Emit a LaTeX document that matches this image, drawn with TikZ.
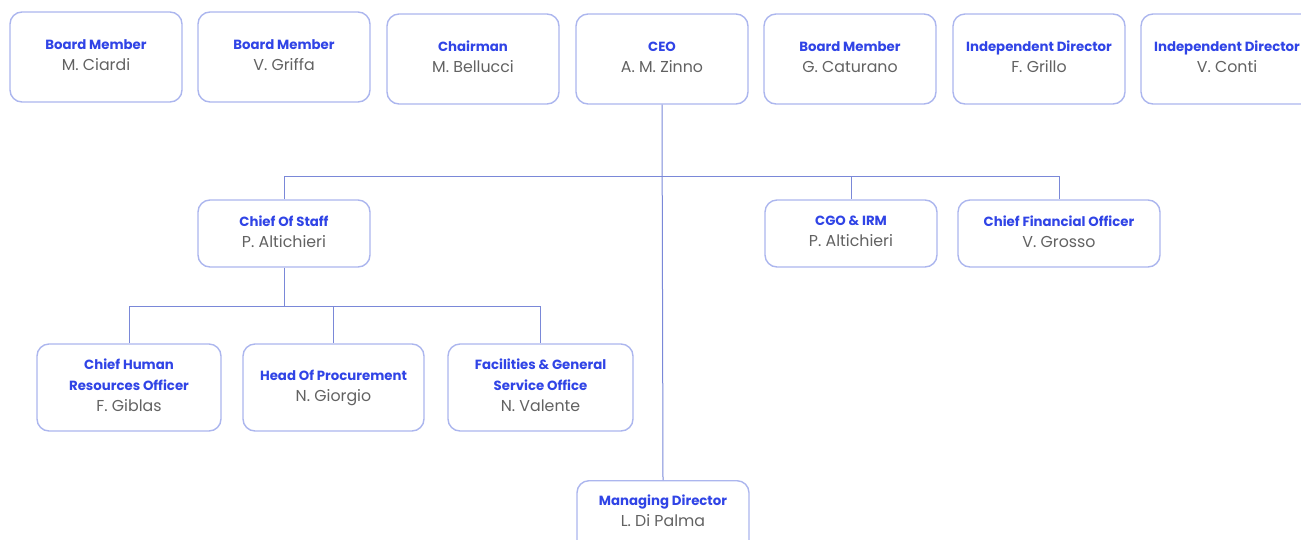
\documentclass[tikz,border=0pt]{standalone}
\usepackage{fontspec}
\setmainfont{Poppins}
\definecolor{boxline}{RGB}{172,182,238}
\definecolor{connline}{RGB}{122,136,216}
\definecolor{titleblue}{RGB}{48,68,230}
\definecolor{namegray}{RGB}{98,98,98}
\newcommand{\ttl}[1]{{\fontsize{13.3}{21}\selectfont\bfseries\color{titleblue}\vphantom{Ahg}#1}}
\newcommand{\nme}[1]{{\fontsize{15.8}{21}\selectfont\color{namegray}\vphantom{Ahg}#1}}
\tikzset{
  orgbox/.style={draw=boxline, line width=1.4pt, rounded corners=12pt, fill=white,
    minimum width=172pt, minimum height=90pt, align=center, inner sep=2pt,
    font=\fontsize{13}{21}\selectfont},
  lowbox/.style={orgbox, minimum height=67pt},
  conn/.style={draw=connline, line width=1pt}
}
\begin{document}
\begin{tikzpicture}[x=1pt,y=-1pt]
\useasboundingbox (0,0) rectangle (1301,539);
\clip (0,0) rectangle (1301,539);
\coordinate (h1) at (662,176);
\coordinate (h2) at (284,306);
% top row
\node[orgbox] (bm1) at (96,57) {\ttl{Board Member}\\\nme{M. Ciardi}};
\node[orgbox] (bm2) at (284,57) {\ttl{Board Member}\\\nme{V. Griffa}};
\node[orgbox] (chair) at (473,59) {\ttl{Chairman}\\\nme{M. Bellucci}};
\node[orgbox] (ceo) at (662,59) {\ttl{CEO}\\\nme{A. M. Zinno}};
\node[orgbox] (bm3) at (850,59) {\ttl{Board Member}\\\nme{G. Caturano}};
\node[orgbox] (id1) at (1039,59) {\ttl{Independent Director}\\\nme{F. Grillo}};
\node[orgbox] (id2) at (1227,59) {\ttl{Independent Director}\\\nme{V. Conti}};
% second row
\node[lowbox] (cos) at (284,233.5) {\ttl{Chief Of Staff}\\\nme{P. Altichieri}};
\node[lowbox] (cgo) at (851,233.5) {\ttl{CGO \& IRM}\\\nme{P. Altichieri}};
\node[lowbox, minimum width=202pt] (cfo) at (1059,233.5) {\ttl{Chief Financial Officer}\\\nme{V. Grosso}};
% third row
\node[orgbox, minimum width=184pt, minimum height=87pt] (chro) at (129,387.5) {\ttl{Chief Human}\\\ttl{Resources Officer}\\\nme{F. Giblas}};
\node[orgbox, minimum width=181pt, minimum height=87pt] (hop) at (333.5,387.5) {\ttl{Head Of Procurement}\\\nme{N. Giorgio}};
\node[orgbox, minimum width=185pt, minimum height=87pt] (fac) at (540.5,387.5) {\ttl{Facilities \& General}\\\ttl{Service Office}\\\nme{N. Valente}};
% managing director (cut off by the lower edge)
\node[orgbox, anchor=north] (md) at (663,480) {\ttl{Managing Director}\\\nme{L. Di Palma}\rule[-31pt]{0pt}{31pt}};
% connectors
\draw[conn] (ceo.south) -- (md.north);
\draw[conn] (cos.north) -- (cos.north |- h1) -- (cfo.north |- h1) -- (cfo.north);
\draw[conn] (cgo.north |- h1) -- (cgo.north);
\draw[conn] (cos.south) -- (h2);
\draw[conn] (chro.north) -- (chro.north |- h2) -- (fac.north |- h2) -- (fac.north);
\draw[conn] (hop.north |- h2) -- (hop.north);
\end{tikzpicture}
\end{document}
